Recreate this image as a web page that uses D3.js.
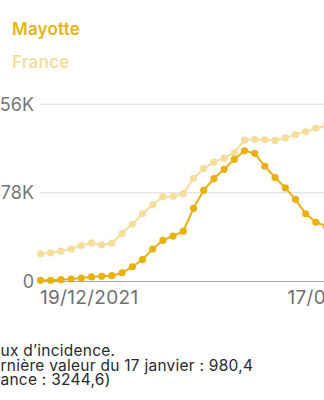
<!DOCTYPE html>
<html>
<head>
<meta charset="utf-8">
<script src="https://cdn.jsdelivr.net/npm/d3@7"></script>
<style>
  html, body { margin: 0; padding: 0; background: #fff; overflow: hidden; }
  svg { display: block; font-family: Inter, "Open Sans", "Noto Sans", sans-serif; }
</style>
</head>
<body>
<svg id="chart" width="324" height="400"></svg>
<script>
// ---- data (values in thousands) ----
const dates = ["19/12/2021","20/12/2021","21/12/2021","22/12/2021","23/12/2021","24/12/2021","25/12/2021","26/12/2021","27/12/2021","28/12/2021","29/12/2021","30/12/2021","31/12/2021","01/01/2022","02/01/2022","03/01/2022","04/01/2022","05/01/2022","06/01/2022","07/01/2022","08/01/2022","09/01/2022","10/01/2022","11/01/2022","12/01/2022","13/01/2022","14/01/2022","15/01/2022","16/01/2022","17/01/2022"];
const mayotte = [1.1,1.1,1.6,2.2,3.1,4.0,4.6,5.1,7.7,13.0,19.3,28.6,36.2,40.0,44.3,64.4,80.2,90.6,98.7,107.5,115.0,112.8,101.4,91.5,82.4,72.3,59.6,52.1,48.8,46.5];
const france  = [24.4,25.3,26.8,28.6,31.5,33.9,32.3,33.7,42.4,50.5,59.6,67.5,74.6,75.0,77.3,90.8,99.4,105.0,108.5,113.3,124.5,125.1,124.9,124.1,126.4,129.3,131.7,134.9,137.0,138.2];
const yTicks = [0, 78, 156];
const yTickLabels = ["0", "78K", "156K"];
const xTickLabels = ["19/12/2021", "17/01/2022"];
const seriesNames = ["Mayotte", "France"];
const noteLines = ["Taux d\u2019incidence.", "Derni\u00e8re valeur du 17 janvier : 980,4", "(France : 3244,6)"];

const colMayotte = "#e8b10f";
const colFrance = "#f5dd9c";

const svg = d3.select("#chart");

const x = d3.scalePoint().domain(dates).range([40.5, 336.3]);
const y = d3.scaleLinear().domain([0, 156]).range([281.5, 104.2]);

// legend
svg.append("text").attr("x", 12).attr("y", 35)
  .attr("font-size", 17).attr("font-weight", 600).attr("fill", "#e7b21a")
  .attr("letter-spacing", 0.2)
  .text(seriesNames[0]);
svg.append("text").attr("x", 12).attr("y", 68)
  .attr("font-size", 17).attr("font-weight", 600).attr("fill", "#f4dd9e")
  .attr("letter-spacing", 0.2)
  .text(seriesNames[1]);

// gridlines + y labels
const gy = svg.append("g");
yTicks.forEach((t, i) => {
  gy.append("line")
    .attr("x1", 40).attr("x2", 400)
    .attr("y1", y(t)).attr("y2", y(t))
    .attr("stroke", t === 0 ? "#a8a8a8" : "#dadada")
    .attr("stroke-width", t === 0 ? 1.2 : 1);
  gy.append("text")
    .attr("x", 34).attr("y", y(t))
    .attr("dy", "0.36em")
    .attr("text-anchor", "end")
    .attr("font-size", 18).attr("fill", "#777")
    .text(yTickLabels[i]);
});

// x labels
svg.append("text").attr("x", x(xTickLabels[0]) - 0.5).attr("y", 304)
  .attr("font-size", 19).attr("fill", "#6f6f6f").attr("text-anchor", "start")
  .attr("letter-spacing", 0.3)
  .text(xTickLabels[0]);
svg.append("text").attr("x", x(xTickLabels[1]) + 2).attr("y", 304)
  .attr("font-size", 19).attr("fill", "#6f6f6f").attr("text-anchor", "middle")
  .attr("letter-spacing", 0.3)
  .text(xTickLabels[1]);

// series
const line = d3.line().x((d, i) => x(dates[i])).y(d => y(d));
function drawSeries(vals, col) {
  const g = svg.append("g");
  g.append("path").datum(vals).attr("d", line)
    .attr("fill", "none").attr("stroke", col).attr("stroke-width", 2);
  g.selectAll("circle").data(vals).join("circle")
    .attr("cx", (d, i) => x(dates[i])).attr("cy", d => y(d))
    .attr("r", 3.6).attr("fill", col);
}
drawSeries(france, colFrance);
drawSeries(mayotte, colMayotte);

// note text
const note = svg.append("g");
const baselines = [356, 370.5, 384.5];
const offsets = ["Ta", "De", "(Fr"];
noteLines.forEach((s, i) => {
  const probe = note.append("text").attr("font-size", 15.5).attr("letter-spacing", 0.25).text(offsets[i]);
  const w = probe.node().getComputedTextLength();
  probe.remove();
  note.append("text").attr("x", -w + 0.5).attr("y", baselines[i])
    .attr("font-size", 15.5).attr("letter-spacing", 0.25).attr("fill", "#2a2a2a")
    .text(s);
});
</script>
</body>
</html>
